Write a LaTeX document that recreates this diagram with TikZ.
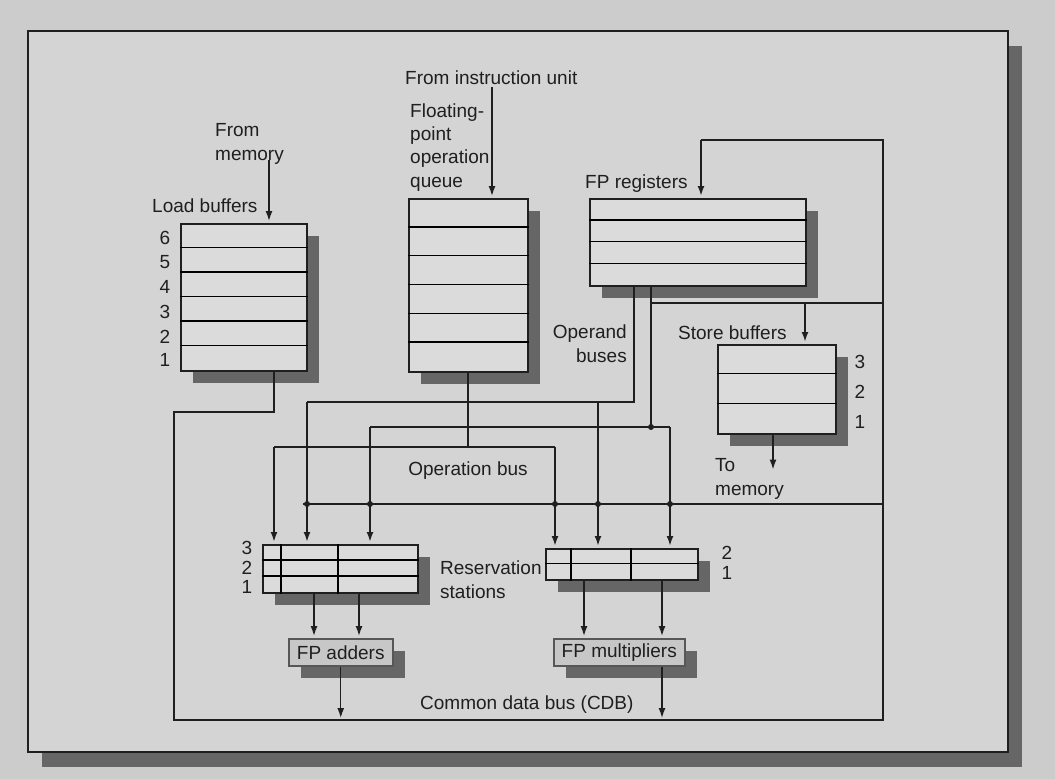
\documentclass[tikz,border=0pt]{standalone}
\usepackage{fontspec}
\setmainfont{Liberation Sans}
\usetikzlibrary{arrows.meta,shadows,calc}

\definecolor{paper}{gray}{0.80}
\definecolor{panel}{gray}{0.83}
\definecolor{cellfill}{gray}{0.86}
\definecolor{fufill}{gray}{0.78}
\definecolor{shade}{gray}{0.40}
\definecolor{ink}{gray}{0.12}

\begin{document}
\begin{tikzpicture}[x=1pt,y=-1pt,
    font=\fontsize{19}{23.3}\selectfont, text=ink,
    buf/.style={draw=ink, line width=1.5pt, fill=cellfill, anchor=north west, inner sep=0pt,
      drop shadow={shadow xshift=12pt, shadow yshift=-12pt, fill=shade, opacity=1}},
    fu/.style={draw=ink!75, line width=1.5pt, fill=fufill, anchor=north west, inner sep=0pt,
      drop shadow={shadow xshift=12pt, shadow yshift=-12pt, fill=shade, opacity=1}},
    lbl/.style={anchor=base west, align=left, inner sep=0pt},
    bus/.style={draw=ink, line width=2.6pt},
    wire/.style={draw=ink, line width=1.4pt},
    tip/.style={-{Latex[length=10pt,width=7pt]}, shorten >=2pt}]

  \path[use as bounding box, fill=paper] (0,0) rectangle (1055,779);
  \draw[line width=2.2pt, draw=ink, fill=panel,
    drop shadow={shadow xshift=14pt, shadow yshift=-15pt, fill=shade, opacity=1}]
    (28,31) rectangle (1008,752);

  % buffers and register file
  \node[buf, minimum width=126pt, minimum height=147pt] (load) at (180,223) {};
  \node[buf, minimum width=119pt, minimum height=173pt] (queue) at (408,198) {};
  \node[buf, minimum width=216pt, minimum height=87pt] (regs) at (589,198) {};
  \node[buf, minimum width=118pt, minimum height=89pt] (store) at (717,344) {};
  \node[buf, minimum width=155pt, minimum height=48pt] (addrs) at (262,544) {};
  \node[buf, minimum width=152pt, minimum height=31pt] (mulrs) at (545,548) {};
  \node[fu, minimum width=104pt, minimum height=27pt] (add) at (288,638) {FP adders};
  \node[fu, minimum width=131pt, minimum height=27pt] (mul) at (553,638) {FP multipliers};

  % rows
  \foreach \b/\n/\h in {load/5/24.5, queue/5/28.83, regs/3/21.75, store/2/29.67, addrs/2/16, mulrs/1/15.5}
    \foreach \k in {1,...,\n}
      \draw[line width=1.5pt] ($(\b.north west)+(0,\k*\h)$) -- ($(\b.north east)+(0,\k*\h)$);
  \foreach \b/\d in {addrs/19,addrs/76,mulrs/26,mulrs/86}
    \draw[line width=1.5pt] ($(\b.north west)+(\d,0)$) -- ($(\b.south west)+(\d,0)$);

  % labels
  \node[lbl] (frommem) at (215,160) {From\\memory};
  \node[lbl] (loadlbl) at (152,212) {Load buffers};
  \node[lbl] (frominst) at (405,84) {From instruction unit};
  \node[lbl] (queuelbl) at (410,187) {Floating-\\point\\operation\\queue};
  \node[lbl] (regslbl) at (585,188) {FP registers};
  \node[lbl, align=right, anchor=base east] (operand) at (627,362) {Operand\\buses};
  \node[lbl] (storelbl) at (678,339) {Store buffers};
  \node[lbl] (tomem) at (715,495) {To\\memory};
  \node[lbl, anchor=base] (opbus) at (468,475) {Operation bus};
  \node[lbl] (rslbl) at (440,598) {Reservation\\stations};
  \node[lbl] (cdblbl) at (420,709) {Common data bus (CDB)};

  \foreach \n/\y in {6/238,5/262,4/287,3/312,2/337,1/360} \node (ld\n) at (165,\y) {\n};
  \foreach \n/\y in {3/362,2/392,1/422} \node (st\n) at (860,\y) {\n};
  \foreach \n/\y in {3/548,2/568,1/587} \node (ar\n) at (247,\y) {\n};
  \foreach \n/\y in {2/553,1/573} \node (mr\n) at (727,\y) {\n};

  % bus corners
  \coordinate (memin) at (269,160);
  \coordinate (instin) at (492,87);
  \coordinate (ldout) at (274,412);
  \coordinate (cdbL) at (174,412);
  \coordinate (cdbBL) at (174,720);
  \coordinate (cdbBR) at (883,720);
  \coordinate (cdbTR) at (883,140);
  \coordinate (cdbTL) at (701,140);
  \coordinate (cdbM) at (303,504);
  \coordinate (stbr) at (651,303);
  \coordinate (stin) at (805,303);
  \coordinate (ob1) at (634,402);
  \coordinate (ob1L) at (307,402);
  \coordinate (ob1M) at (598,402);
  \coordinate (ob2) at (651,427);
  \coordinate (ob2L) at (370,427);
  \coordinate (ob2R) at (670,427);
  \coordinate (opq) at (468,447);
  \coordinate (opL) at (274,447);
  \coordinate (opR) at (555,447);
  \coordinate (stout) at ($(store.south west)+(56,0)$);
  \coordinate (mulout) at ($(mul.south west)+(109,0)$);

  % inputs and outputs
  \draw[wire, tip] (memin) -- (memin |- load.north);
  \draw[wire, tip] (instin) -- (instin |- queue.north);
  \draw[wire, tip] (stout) -- ++(0,37);

  % common data bus
  \draw[bus] (load.south -| ldout) -- (ldout) -- (cdbL) -- (cdbBL) -- (cdbBR) -- (cdbTR) -- (cdbTL);
  \draw[bus, tip] (cdbTL) -- (cdbTL |- regs.north);
  \draw[bus] (stbr) -- (stbr -| cdbTR);
  \draw[bus, tip] (stin) -- (stin |- store.north);
  \draw[bus] (cdbM) -- (cdbM -| cdbBR);

  % operand buses
  \draw[bus] (regs.south -| ob1) -- (ob1) -- (ob1L);
  \draw[bus, tip] (ob1L) -- (ob1L |- addrs.north);
  \draw[bus, tip] (ob1M) -- (ob1M |- mulrs.north);
  \draw[bus] (regs.south -| ob2) -- (ob2);
  \draw[bus] (ob2L) -- (ob2R);
  \draw[bus, tip] (ob2L) -- (ob2L |- addrs.north);
  \draw[bus, tip] (ob2R) -- (ob2R |- mulrs.north);

  % operation bus
  \draw[wire] (queue.south -| opq) -- (opq);
  \draw[bus] (opL) -- (opR);
  \draw[bus, tip] (opL) -- (opL |- addrs.north);
  \draw[bus, tip] (opR) -- (opR |- mulrs.north);

  \fill[ink] (ob2) circle (3pt);
  \foreach \x in {307,370,555,598,670} \fill[ink] (\x,504) circle (3pt);

  % to the functional units
  \draw[wire, tip] ($(addrs.south west)+(52,0)$) -- ($(add.north west)+(26,0)$);
  \draw[wire, tip] ($(addrs.south west)+(97,0)$) -- ($(add.north west)+(71,0)$);
  \draw[wire, tip] ($(mulrs.south west)+(39,0)$) -- ($(mul.north west)+(31,0)$);
  \draw[wire, tip] ($(mulrs.south west)+(117,0)$) -- ($(mul.north west)+(109,0)$);
  \draw[wire, tip] (add.south) -- (add.south |- cdbBL);
  \draw[wire, tip] (mulout) -- (mulout |- cdbBL);
\end{tikzpicture}
\end{document}
